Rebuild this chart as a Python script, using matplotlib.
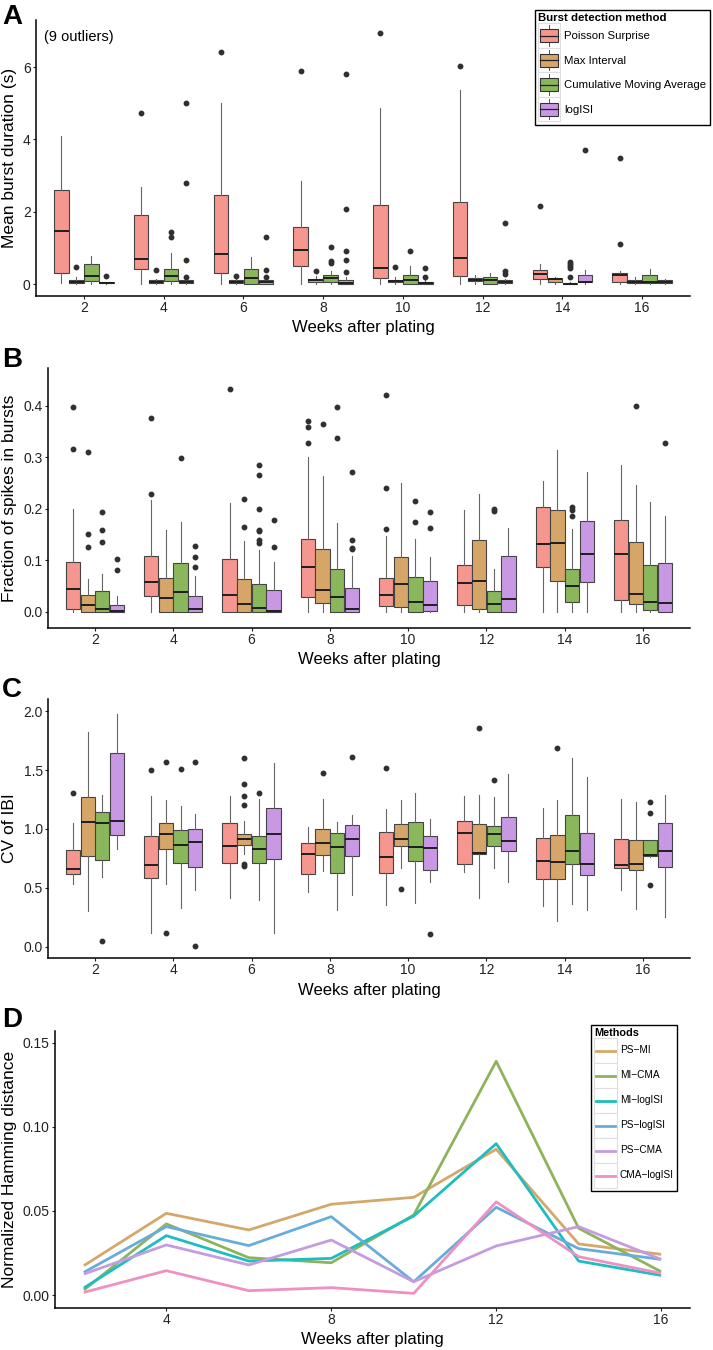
import matplotlib
matplotlib.use('Agg')
import matplotlib.pyplot as plt
from matplotlib.patches import Patch, Rectangle
from matplotlib.lines import Line2D
from matplotlib.legend_handler import HandlerBase

plt.rcParams['font.family'] = ['Liberation Sans', 'DejaVu Sans']

# ---------------- data ----------------
weeks = [2, 4, 6, 8, 10, 12, 14, 16]
methods = ['Poisson Surprise', 'Max Interval', 'Cumulative Moving Average', 'logISI']
method_colors = ['#F5968F', '#D5A668', '#8AB65C', '#C898E4']

# Panel A: mean burst duration (s); rows = methods, cols = weeks
A_q1 = [[0.30, 0.41, 0.30, 0.50, 0.16, 0.21, 0.13, 0.07],
        [0.04, 0.03, 0.03, 0.05, 0.05, 0.08, 0.05, 0.02],
        [0.08, 0.08, 0.00, 0.05, 0.00, 0.00, 0.00, 0.02],
        [0.02, 0.02, 0.01, 0.00, 0.00, 0.03, 0.05, 0.02]]
A_med = [[1.47, 0.70, 0.82, 0.94, 0.45, 0.71, 0.28, 0.24],
         [0.07, 0.06, 0.06, 0.10, 0.08, 0.12, 0.13, 0.07],
         [0.22, 0.22, 0.17, 0.16, 0.10, 0.10, 0.01, 0.07],
         [0.03, 0.05, 0.05, 0.02, 0.03, 0.06, 0.07, 0.07]]
A_q3 = [[2.61, 1.91, 2.45, 1.58, 2.19, 2.28, 0.39, 0.31],
        [0.11, 0.10, 0.10, 0.13, 0.12, 0.18, 0.16, 0.10],
        [0.56, 0.41, 0.41, 0.25, 0.25, 0.20, 0.03, 0.25],
        [0.05, 0.10, 0.10, 0.10, 0.05, 0.10, 0.25, 0.10]]
A_lo = [[0.03, 0.0, 0.0, 0.0, 0.0, 0.0, 0.0, 0.0],
        [0.0, 0.0, 0.0, 0.0, 0.0, 0.0, 0.0, 0.0],
        [0.0, 0.0, 0.0, 0.0, 0.0, 0.0, 0.0, 0.0],
        [0.0, 0.0, 0.0, 0.0, 0.0, 0.0, 0.0, 0.0]]
A_hi = [[4.08, 2.69, 5.00, 2.86, 4.88, 5.36, 0.55, 0.35],
        [0.19, 0.15, 0.15, 0.22, 0.20, 0.25, 0.20, 0.20],
        [0.78, 0.85, 0.74, 0.37, 0.50, 0.30, 0.05, 0.41],
        [0.05, 0.15, 0.15, 0.20, 0.10, 0.15, 0.38, 0.15]]
A_out = [[[], [4.72], [6.42], [5.89], [6.95], [6.03], [2.16], [3.49, 1.10]],
         [[0.47], [0.38], [0.23], [0.37], [0.48], [], [], []],
         [[], [1.45, 1.29], [], [1.02, 0.63, 0.58], [0.92], [], [0.60, 0.55, 0.50, 0.45, 0.20], []],
         [[0.22], [5.00, 2.80, 0.67, 0.20], [1.30, 0.40, 0.19], [5.82, 2.07, 0.92, 0.67, 0.32],
          [0.45, 0.20], [1.69, 0.35, 0.28], [3.71], []]]

# Panel B: fraction of spikes in bursts
B_q1 = [[0.005, 0.031, 0.000, 0.029, 0.011, 0.013, 0.086, 0.023],
        [0.000, 0.000, 0.000, 0.016, 0.010, 0.005, 0.060, 0.014],
        [0.000, 0.000, 0.000, 0.000, 0.000, 0.000, 0.019, 0.003],
        [0.000, 0.000, 0.000, 0.000, 0.001, 0.000, 0.057, 0.000]]
B_med = [[0.044, 0.058, 0.032, 0.086, 0.032, 0.055, 0.132, 0.111],
         [0.012, 0.026, 0.015, 0.042, 0.054, 0.059, 0.134, 0.035],
         [0.006, 0.039, 0.008, 0.029, 0.019, 0.015, 0.050, 0.019],
         [0.001, 0.005, 0.002, 0.006, 0.012, 0.024, 0.112, 0.017]]
B_q3 = [[0.097, 0.109, 0.102, 0.142, 0.066, 0.090, 0.204, 0.178],
        [0.032, 0.065, 0.063, 0.122, 0.107, 0.140, 0.198, 0.135],
        [0.041, 0.095, 0.053, 0.082, 0.068, 0.041, 0.083, 0.091],
        [0.013, 0.030, 0.043, 0.046, 0.060, 0.109, 0.176, 0.095]]
B_lo = [[0.0, 0.0, 0.0, 0.0, 0.0, 0.0, 0.0, 0.0],
        [0.0, 0.0, 0.0, 0.0, 0.0, 0.0, 0.0, 0.0],
        [0.0, 0.0, 0.0, 0.0, 0.0, 0.0, 0.0, 0.0],
        [0.0, 0.0, 0.0, 0.0, 0.0, 0.0, 0.0, 0.0]]
B_hi = [[0.200, 0.217, 0.210, 0.301, 0.146, 0.197, 0.253, 0.285],
        [0.064, 0.158, 0.137, 0.263, 0.250, 0.229, 0.314, 0.245],
        [0.074, 0.174, 0.119, 0.172, 0.142, 0.083, 0.161, 0.212],
        [0.030, 0.070, 0.096, 0.108, 0.106, 0.163, 0.271, 0.185]]
B_out = [[[0.397, 0.315], [0.376, 0.228], [0.432], [0.371, 0.359, 0.328], [0.421, 0.240, 0.160], [], [], []],
         [[0.310, 0.150, 0.125], [], [0.219, 0.165], [0.364], [], [], [], [0.400]],
         [[0.194, 0.158, 0.135], [0.299], [0.284, 0.266, 0.200, 0.159, 0.156, 0.139, 0.134],
          [0.398, 0.337], [0.214, 0.175], [0.199, 0.196], [0.203, 0.198, 0.186], []],
         [[0.103, 0.081], [0.127, 0.106, 0.087], [0.177, 0.125], [0.271, 0.140, 0.124, 0.121],
          [0.193, 0.162], [], [], [0.328]]]

# Panel C: CV of IBI
C_q1 = [[0.615, 0.584, 0.708, 0.620, 0.623, 0.700, 0.578, 0.669],
        [0.771, 0.827, 0.864, 0.776, 0.856, 0.785, 0.572, 0.652],
        [0.737, 0.708, 0.714, 0.629, 0.731, 0.856, 0.703, 0.771],
        [0.949, 0.677, 0.742, 0.768, 0.652, 0.816, 0.606, 0.680]]
C_med = [[0.657, 0.694, 0.856, 0.785, 0.759, 0.966, 0.725, 0.691],
         [1.060, 0.958, 0.912, 0.878, 0.912, 0.799, 0.720, 0.703],
         [1.054, 0.867, 0.827, 0.850, 0.850, 0.955, 0.816, 0.776],
         [1.068, 0.892, 0.960, 0.912, 0.841, 0.898, 0.700, 0.816]]
C_q3 = [[0.819, 0.943, 1.054, 0.878, 0.975, 1.065, 0.926, 0.918],
        [1.269, 1.048, 0.958, 1.003, 1.042, 1.040, 0.949, 0.907],
        [1.142, 0.989, 0.943, 0.969, 1.059, 1.025, 1.116, 0.904],
        [1.643, 1.003, 1.176, 1.031, 0.943, 1.099, 0.969, 1.051]]
C_lo = [[0.535, 0.119, 0.411, 0.462, 0.351, 0.632, 0.346, 0.484],
        [0.306, 0.530, 0.790, 0.640, 0.671, 0.416, 0.215, 0.320],
        [0.595, 0.331, 0.399, 0.312, 0.368, 0.671, 0.360, 0.760],
        [0.833, 0.482, 0.119, 0.436, 0.550, 0.547, 0.312, 0.249]]
C_hi = [[1.054, 1.280, 1.280, 1.020, 1.167, 1.280, 1.181, 1.252],
        [1.824, 1.246, 1.065, 1.258, 1.246, 1.289, 1.249, 1.229],
        [1.286, 1.195, 1.252, 1.060, 1.309, 1.275, 1.600, 0.904],
        [1.975, 1.127, 1.558, 1.119, 1.085, 1.467, 1.445, 1.289]]
C_out = [[[1.309], [1.501], [], [], [1.516], [], [], []],
         [[], [1.567, 0.119], [1.600, 1.382, 1.278, 1.207, 0.700, 0.686], [1.473], [0.493], [1.856], [1.691], []],
         [[0.048], [1.513], [1.309], [], [], [1.416], [], [1.227, 1.139, 0.521]],
         [[], [1.569, 0.006], [], [1.615], [0.108], [], [], []]]

# Panel D: normalized Hamming distance between method pairs
pair_names = ['PS\u2212MI', 'MI\u2212CMA', 'MI\u2212logISI', 'PS\u2212logISI', 'PS\u2212CMA', 'CMA\u2212logISI']
pair_colors = ['#D4A86A', '#8EB35C', '#1DBDC0', '#67ADDB', '#C49CDF', '#EE91C2']
ps_mi = [0.0175, 0.0486, 0.0387, 0.0540, 0.0581, 0.0867, 0.0304, 0.0242]
mi_cma = [0.0030, 0.0423, 0.0222, 0.0192, 0.0476, 0.1390, 0.0397, 0.0139]
mi_logisi = [0.0042, 0.0353, 0.0202, 0.0218, 0.0470, 0.0900, 0.0202, 0.0117]
ps_logisi = [0.0135, 0.0407, 0.0294, 0.0466, 0.0079, 0.0522, 0.0276, 0.0212]
ps_cma = [0.0125, 0.0298, 0.0179, 0.0327, 0.0079, 0.0292, 0.0407, 0.0212]
cma_logisi = [0.0016, 0.0145, 0.0026, 0.0044, 0.0010, 0.0554, 0.0228, 0.0129]
pair_values = [ps_mi, mi_cma, mi_logisi, ps_logisi, ps_cma, cma_logisi]


# ---------------- helpers ----------------
W, H = 713, 1350
fig = plt.figure(figsize=(W / 100, H / 100), dpi=100)


def px_axes(left, top, right, bottom):
    return fig.add_axes([left / W, 1 - bottom / H, (right - left) / W, (bottom - top) / H])


def style_axes(ax, tick_size=10):
    for s in ['top', 'right']:
        ax.spines[s].set_visible(False)
    for s in ['left', 'bottom']:
        ax.spines[s].set_linewidth(1.1)
        ax.spines[s].set_color('black')
    ax.tick_params(length=2, width=0.8, pad=1.8, labelsize=tick_size, colors='#222222')


def draw_boxes(ax, q1, med, q3, lo, hi, out):
    width = 0.1875
    for m in range(4):
        stats = []
        for w in range(len(weeks)):
            stats.append(dict(med=med[m][w], q1=q1[m][w], q3=q3[m][w],
                              whislo=lo[m][w], whishi=hi[m][w], fliers=out[m][w]))
        pos = [i + 1 + (m - 1.5) * width for i in range(len(weeks))]
        ax.bxp(stats, positions=pos, widths=width * 0.97, patch_artist=True,
               showcaps=False, manage_ticks=False,
               boxprops=dict(facecolor=method_colors[m], edgecolor='#444444', linewidth=0.8),
               medianprops=dict(color='#1e1e1e', linewidth=1.4),
               whiskerprops=dict(color='#666666', linewidth=0.8),
               flierprops=dict(marker='o', markersize=3.2, markerfacecolor='#303030',
                               markeredgecolor='#303030', linestyle='none'))
    ax.set_xlim(0.4, 8.6)
    ax.set_xticks(range(1, len(weeks) + 1))
    ax.set_xticklabels([str(w) for w in weeks])


def key_height(size_px, fontsize_pt):
    # matplotlib legend handle box height = fs*(0.65*hh + 0.245)
    fs_px = fontsize_pt * 100 / 72
    return (size_px / fs_px - 0.245) / 0.65


class BoxKey(HandlerBase):
    def create_artists(self, legend, orig_handle, xdescent, ydescent, width, height, fontsize, trans):
        x0, y0 = -xdescent, -ydescent
        bg = Rectangle((x0, y0), width, height, facecolor='white', edgecolor='#dedede', lw=0.8, transform=trans)
        cx = x0 + width / 2
        wl = Line2D([cx, cx], [y0 + 0.08 * height, y0 + 0.92 * height], color='#555555', lw=0.7, transform=trans)
        box = Rectangle((x0 + 0.1 * width, y0 + 0.24 * height), 0.8 * width, 0.52 * height,
                        facecolor=orig_handle.get_facecolor(), edgecolor='#333333', lw=0.8, transform=trans)
        med = Line2D([x0 + 0.1 * width, x0 + 0.9 * width], [y0 + 0.5 * height] * 2,
                     color='#222222', lw=0.9, transform=trans)
        return [bg, wl, box, med]


class LineKey(HandlerBase):
    def create_artists(self, legend, orig_handle, xdescent, ydescent, width, height, fontsize, trans):
        x0, y0 = -xdescent, -ydescent
        bg = Rectangle((x0, y0), width, height, facecolor='white', edgecolor='#dedede', lw=0.8, transform=trans)
        ln = Line2D([x0 + 0.1 * width, x0 + 0.9 * width], [y0 + 0.5 * height] * 2,
                    color=orig_handle.get_color(), lw=2.0, transform=trans)
        return [bg, ln]


# ---------------- panel A ----------------
axA = px_axes(36, 20, 690, 296)
style_axes(axA)
draw_boxes(axA, A_q1, A_med, A_q3, A_lo, A_hi, A_out)
axA.set_ylim(-0.33, 7.30)
axA.set_yticks([0, 2, 4, 6])
axA.set_ylabel('Mean burst duration (s)', fontsize=12.5)
axA.yaxis.set_label_coords((17 - 36) / 654, 0.5)
axA.set_xlabel('Weeks after plating', fontsize=12)
axA.xaxis.set_label_coords(0.5, -(320 - 296) / 276)
fig.text(44 / W, 1 - 37.5 / H, '(9 outliers)', fontsize=10.5, va='center', ha='left')

handlesA = [Patch(facecolor=c) for c in method_colors]
legA = axA.legend(handlesA, methods, title='Burst detection method', loc='upper right',
                  bbox_to_anchor=(710 / W, 1 - 10 / H), bbox_transform=fig.transFigure,
                  handler_map={Patch: BoxKey()}, fontsize=8.2, title_fontsize=8.2,
                  handlelength=1.95, handleheight=key_height(24.5, 8.2), labelspacing=0,
                  handletextpad=0.35, borderpad=0.3, borderaxespad=0, fancybox=False,
                  framealpha=1, edgecolor='black', alignment='left')
legA.get_frame().set_linewidth(1.0)
legA.get_title().set_fontweight('bold')

# ---------------- panel B ----------------
axB = px_axes(48, 368, 690, 628)
style_axes(axB)
draw_boxes(axB, B_q1, B_med, B_q3, B_lo, B_hi, B_out)
axB.set_ylim(-0.0317, 0.473)
axB.set_yticks([0.0, 0.1, 0.2, 0.3, 0.4])
axB.set_yticklabels(['0.0', '0.1', '0.2', '0.3', '0.4'])
axB.set_ylabel('Fraction of spikes in bursts', fontsize=12.5)
axB.yaxis.set_label_coords((17 - 48) / 642, 0.5)
axB.set_xlabel('Weeks after plating', fontsize=12)
axB.xaxis.set_label_coords(0.5, -(652 - 628) / 260)

# ---------------- panel C ----------------
axC = px_axes(48, 699, 690, 958)
style_axes(axC)
draw_boxes(axC, C_q1, C_med, C_q3, C_lo, C_hi, C_out)
axC.set_ylim(-0.096, 2.104)
axC.set_yticks([0.0, 0.5, 1.0, 1.5, 2.0])
axC.set_yticklabels(['0.0', '0.5', '1.0', '1.5', '2.0'])
axC.set_ylabel('CV of IBI', fontsize=12.5)
axC.yaxis.set_label_coords((17 - 48) / 642, 0.5)
axC.set_xlabel('Weeks after plating', fontsize=12)
axC.xaxis.set_label_coords(0.5, -(983 - 958) / 259)

# ---------------- panel D ----------------
axD = px_axes(55, 1031, 690, 1308)
style_axes(axD, tick_size=10)
for name, vals, col in zip(pair_names, pair_values, pair_colors):
    axD.plot(weeks, vals, color=col, lw=2.0, label=name, solid_capstyle='butt')
axD.set_xlim(1.3, 16.7)
axD.set_ylim(-0.0077, 0.157)
axD.set_xticks([4, 8, 12, 16])
axD.set_yticks([0.0, 0.05, 0.10, 0.15])
axD.set_yticklabels(['0.00', '0.05', '0.10', '0.15'])
axD.set_ylabel('Normalized Hamming distance', fontsize=12.5)
axD.yaxis.set_label_coords((17 - 55) / 635, 0.5)
axD.set_xlabel('Weeks after plating', fontsize=12)
axD.xaxis.set_label_coords(0.5, -(1332 - 1308) / 277)

legD = axD.legend(title='Methods', loc='upper right',
                  bbox_to_anchor=(677 / W, 1 - 1025 / H), bbox_transform=fig.transFigure,
                  handler_map={Line2D: LineKey()}, fontsize=7.3, title_fontsize=7.8,
                  handlelength=2.25, handleheight=key_height(25, 7.3), labelspacing=0,
                  handletextpad=0.3, borderpad=0.3, borderaxespad=0, fancybox=False,
                  framealpha=1, edgecolor='black', alignment='left')
legD.get_frame().set_linewidth(1.0)
legD.get_title().set_fontweight('bold')

# ---------------- panel letters ----------------
for letter, yc in zip('ABCD', [17, 360, 690, 1020]):
    fig.text(2 / W, 1 - yc / H, letter, fontsize=20, fontweight='bold', va='center', ha='left')

fig.savefig('out.png', dpi=100)
